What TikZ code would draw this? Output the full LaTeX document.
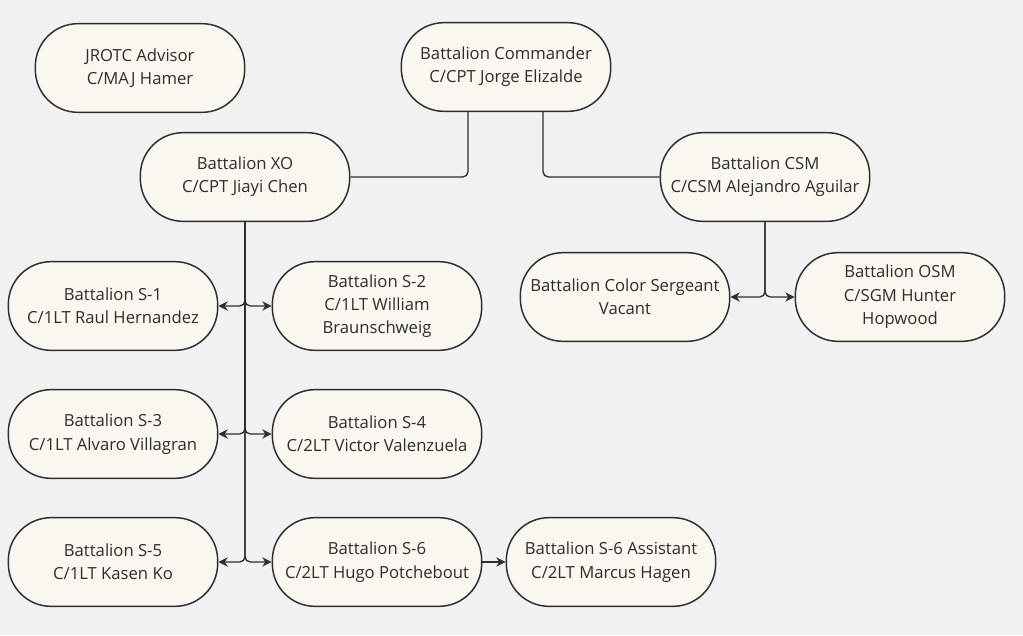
\documentclass[tikz,border=0pt]{standalone}
\usepackage{fontspec}
\setmainfont{Open Sans}
\usetikzlibrary{arrows.meta}
\definecolor{bgray}{RGB}{241,241,241}
\definecolor{cream}{RGB}{250,247,240}
\definecolor{ink}{RGB}{45,45,45}
\begin{document}
\begin{tikzpicture}[
		x=0.75pt, y=-0.75pt,
		box/.style={draw=ink, fill=cream, line width=1.1pt, rounded corners=32pt,
				minimum width=157pt, minimum height=66.5pt, align=center,
				text=ink, font=\fontsize{12.5}{17.5}\selectfont},
		link/.style={draw=ink, line width=1pt, rounded corners=4pt},
		tip/.style={-{Stealth[length=7pt,width=7pt]}}
	]
	\fill[bgray] (0,0) rectangle (1023,635);

	\node[box] (adv) at (140,68) {JROTC Advisor\\C/MAJ Hamer};
	\node[box] (cmd) at (506,67) {Battalion Commander\\C/CPT Jorge Elizalde};
	\node[box] (xo) at (245,177) {Battalion XO\\C/CPT Jiayi Chen};
	\node[box] (csm) at (765,177) {Battalion CSM\\C/CSM Alejandro Aguilar};
	\node[box] (colsgt) at (625,297) {Battalion Color Sergeant\\Vacant};
	\node[box] (osm) at (900,297) {Battalion OSM\\C/SGM Hunter\\Hopwood};
	\node[box] (s1) at (113,306) {Battalion S-1\\C/1LT Raul Hernandez};
	\node[box] (s2) at (377,306) {Battalion S-2\\C/1LT William\\Braunschweig};
	\node[box] (s3) at (113,434) {Battalion S-3\\C/1LT Alvaro Villagran};
	\node[box] (s4) at (377,434) {Battalion S-4\\C/2LT Victor Valenzuela};
	\node[box] (s5) at (113,562) {Battalion S-5\\C/1LT Kasen Ko};
	\node[box] (s6) at (377,562) {Battalion S-6\\C/2LT Hugo Potchebout};
	\node[box] (asst) at (611,562) {Battalion S-6 Assistant\\C/2LT Marcus Hagen};

	% commander to xo and csm
	\draw[link] ([xshift=-28.5pt]cmd.south) |- (xo);
	\draw[link] ([xshift=27.75pt]cmd.south) |- (csm);

	% staff under the xo
	\foreach \t in {s1,s2,s3,s4,s5,s6}
	\draw[link,tip] (xo.south) |- (\t);

	% under the csm
	\draw[link,tip] (csm.south) |- (colsgt);
	\draw[link,tip] (csm.south) |- (osm);

	\draw[link,tip] (s6) -- (asst);
\end{tikzpicture}
\end{document}
